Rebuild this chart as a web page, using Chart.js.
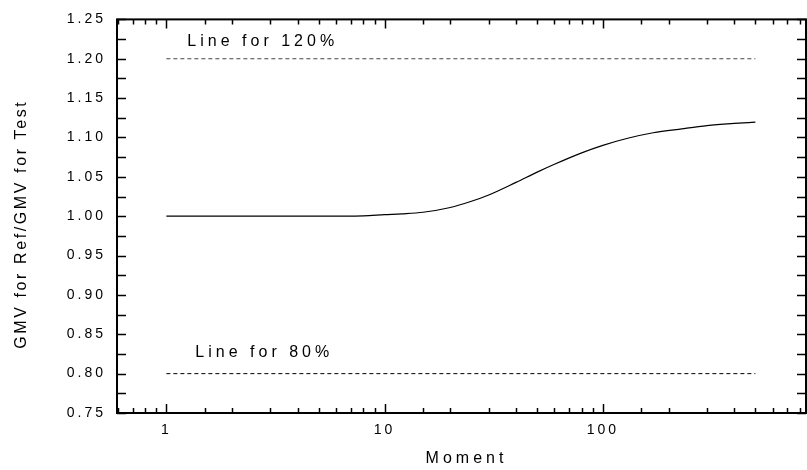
<!DOCTYPE html>
<html>
<head>
<meta charset="utf-8">
<script src="https://cdn.jsdelivr.net/npm/chart.js@4.4.1/dist/chart.umd.min.js"></script>
<style>
  html, body { margin: 0; padding: 0; background: #fff; overflow: hidden; }
  #wrap { width: 815px; height: 470px; }
</style>
</head>
<body>
<div id="wrap"><canvas id="myChart"></canvas></div>
<script>
// GMV ratio vs moment
const moments = [1, 2, 5, 8, 10, 12, 15, 20, 25, 30, 40, 50, 60, 80, 100, 130, 170, 230, 300, 400, 500];
const ratios = [1.000, 1.000, 1.000, 1.0005, 1.002, 1.003, 1.005, 1.011, 1.019, 1.027, 1.043, 1.056, 1.066, 1.0805, 1.090, 1.099, 1.106, 1.111, 1.115, 1.1178, 1.1195];

// Acceptance limits
const limitRange = [1, 500];
const upperLimit = 1.20;
const lowerLimit = 0.80;
const upperLabel = "Line for 120%";
const lowerLabel = "Line for 80%";

// Axes
const xTitle = "Moment";
const yTitle = "GMV for Ref/GMV for Test";
const xLabeled = [1, 10, 100];
const xRange = [0.594, 853];
const yRange = [0.75, 1.25];
const yStep = 0.05;
const yMinorStep = 0.025;

const FONT = "'Liberation Sans', Arial, sans-serif";

// frame, inward ticks, axis titles and the limit captions
const framePlugin = {
  id: "frame",
  beforeDraw(chart) {
    chart.ctx.letterSpacing = "3px";
  },
  afterDatasetsDraw(chart) {
    const { ctx, chartArea: a, scales } = chart;
    const xs = scales.x, ys = scales.y;
    ctx.save();
    ctx.strokeStyle = "#000";
    ctx.lineWidth = 2;
    ctx.strokeRect(a.left, a.top, a.right - a.left, a.bottom - a.top);

    ctx.lineWidth = 1.5;
    ctx.beginPath();
    for (let v = yRange[0]; v <= yRange[1] + 1e-9; v += yMinorStep) {
      const y = Math.round(ys.getPixelForValue(v)) + 0.5;
      ctx.moveTo(a.left, y); ctx.lineTo(a.left + 9, y);
      ctx.moveTo(a.right, y); ctx.lineTo(a.right - 9, y);
    }
    xs.ticks.forEach(t => {
      const lg = Math.log10(t.value);
      const major = Math.abs(lg - Math.round(lg)) < 1e-6;
      const len = major ? 9 : 5;
      const x = Math.round(xs.getPixelForValue(t.value)) + 0.5;
      ctx.moveTo(x, a.bottom); ctx.lineTo(x, a.bottom - len);
      ctx.moveTo(x, a.top); ctx.lineTo(x, a.top + len);
    });
    ctx.stroke();

    ctx.fillStyle = "#000";
    ctx.textBaseline = "middle";

    // limit captions
    ctx.font = "16px " + FONT;
    ctx.letterSpacing = "4px";
    ctx.textAlign = "left";
    const x0 = xs.getPixelForValue(limitRange[0]);
    ctx.fillText(upperLabel, x0 + 21, ys.getPixelForValue(upperLimit) - 17);
    ctx.fillText(lowerLabel, x0 + 29, ys.getPixelForValue(lowerLimit) - 21);

    // x title
    ctx.textAlign = "center";
    ctx.fillText(xTitle, (a.left + a.right) / 2 + 5, 459);

    // y title
    ctx.font = "16px " + FONT;
    ctx.letterSpacing = "2.6px";
    ctx.translate(22, (a.top + a.bottom) / 2 + 8);
    ctx.rotate(-Math.PI / 2);
    ctx.fillText(yTitle, 0, 0);
    ctx.restore();
  }
};

const ctx = document.getElementById("myChart").getContext("2d");
const myChart = new Chart(ctx, {
  type: "line",
  data: {
    datasets: [
      {
        data: moments.map((m, i) => ({ x: m, y: ratios[i] })),
        borderColor: "#000",
        borderWidth: 1.2,
        pointRadius: 0,
        cubicInterpolationMode: "monotone",
      },
      {
        data: limitRange.map(m => ({ x: m, y: upperLimit })),
        borderColor: "#444",
        borderWidth: 1,
        borderDash: [4, 3],
        pointRadius: 0,
      },
      {
        data: limitRange.map(m => ({ x: m, y: lowerLimit })),
        borderColor: "#000",
        borderWidth: 1,
        borderDash: [4, 3],
        pointRadius: 0,
      },
    ],
  },
  options: {
    responsive: true,
    maintainAspectRatio: false,
    animation: false,
    layout: { padding: { left: 0, top: 15, right: 5, bottom: 0 } },
    plugins: { legend: { display: false }, tooltip: { enabled: false } },
    scales: {
      x: {
        type: "logarithmic",
        min: xRange[0],
        max: xRange[1],
        border: { display: false },
        grid: { display: false, drawTicks: false },
        afterFit: s => { s.height = 57; },
        ticks: {
          autoSkip: false,
          maxRotation: 0,
          padding: 9,
          color: "#000",
          font: { family: FONT, size: 14 },
          callback: v => (xLabeled.includes(v) ? String(v) : ""),
        },
      },
      y: {
        min: yRange[0],
        max: yRange[1],
        border: { display: false },
        grid: { display: false, drawTicks: false },
        afterFit: s => { s.width = 117; },
        ticks: {
          stepSize: yStep,
          padding: 11,
          color: "#000",
          font: { family: FONT, size: 14 },
          callback: v => v.toFixed(2),
        },
      },
    },
  },
  plugins: [framePlugin],
});
</script>
</body>
</html>
